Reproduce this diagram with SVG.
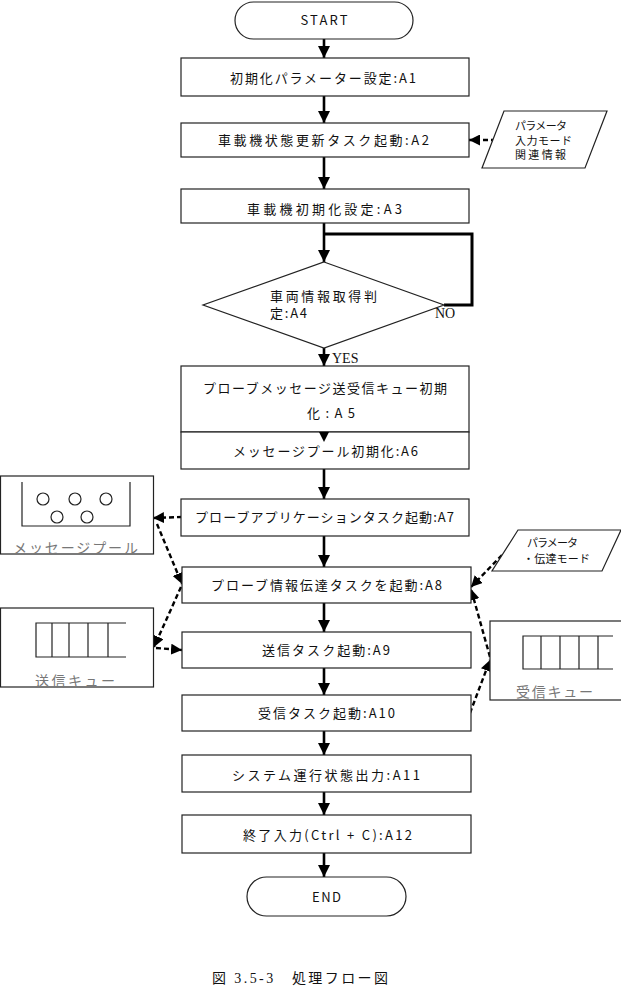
<svg xmlns="http://www.w3.org/2000/svg" width="621" height="1004" viewBox="0 0 621 1004">
<style>
.box{fill:#fff;stroke:#222;stroke-width:1.2}
.t{font-family:"Noto Sans CJK JP","Liberation Sans",sans-serif;font-size:13px;fill:#111}
.s{font-family:"Noto Sans CJK JP","Liberation Sans",sans-serif;font-size:11px;fill:#111}
.g{font-family:"Noto Sans CJK JP","Liberation Serif",serif;font-size:14px;fill:#777}
.r{font-family:"Liberation Serif",serif;font-size:14px;fill:#111}
.cap{font-family:"Liberation Serif","Noto Sans CJK JP",serif;font-size:14px;fill:#111}
.sol{fill:none;stroke:#000;stroke-width:2.6;marker-end:url(#ah)}
.dash{fill:none;stroke:#000;stroke-width:2.4;stroke-dasharray:5 3;marker-end:url(#ahd)}
.thin{fill:none;stroke:#222;stroke-width:1.2}
</style>
<defs>
<marker id="ah" markerUnits="userSpaceOnUse" markerWidth="12" markerHeight="12" refX="10" refY="5" orient="auto" viewBox="0 0 10 10">
<path d="M0,0 L10,5 L0,10 Z" fill="#000"/>
</marker>
<marker id="ahd" markerUnits="userSpaceOnUse" markerWidth="11" markerHeight="11" refX="10" refY="5" orient="auto" viewBox="0 0 10 10">
<path d="M0,0 L10,5 L0,10 Z" fill="#000"/>
</marker>
</defs>
<rect width="621" height="1004" fill="#fff"/>

<g id="connectors">
<path class="sol" d="M324,39 V58"/>
<path class="sol" d="M324,96 V123"/>
<path class="sol" d="M324,157 V189"/>
<path class="sol" d="M324,223 V262"/>
<path d="M324,234 H472 V305 H444" fill="none" stroke="#000" stroke-width="3"/>
<path class="sol" d="M324,348 V366"/>
<path class="sol" d="M324,469 V499"/>
<path class="sol" d="M324,536 V567"/>
<path class="sol" d="M324,603 V632"/>
<path class="sol" d="M324,668 V695"/>
<path class="sol" d="M324,731 V755"/>
<path class="sol" d="M324,792 V815"/>
<path class="sol" d="M324,853 V877"/>
<path class="dash" d="M496,140 H469"/>
<path class="dash" d="M182,517 L153,518"/>
<path class="dash" d="M157,524 L182,584"/>
<path class="dash" d="M181,587 L154,647"/>
<path class="dash" d="M156,648 L182,650"/>
<path class="dash" d="M502,555 L471,587"/>
<path class="dash" d="M490,657 L471,589"/>
<path class="dash" d="M470,713 L490,660"/>
</g>

<g id="start">
<rect x="235" y="2" width="178" height="37" rx="18.5" class="box"/>
<text x="324" y="25" class="t" text-anchor="middle" textLength="47">START</text>
</g>
<g id="A1">
<rect x="181" y="58" width="288" height="38" class="box"/>
<text x="230" y="82.5" class="t" textLength="186" lengthAdjust="spacing">初期化パラメーター設定:A1</text>
</g>
<g id="param1">
<polygon points="504,111 607,111 585,168 482,168" class="box"/>
<text x="515" y="130" class="s" textLength="52">パラメータ</text>
<text x="515" y="144.5" class="s" textLength="57">入力モード</text>
<text x="515" y="159" class="s" textLength="51">関連情報</text>
</g>
<g id="A2">
<rect x="181" y="123" width="288" height="34" class="box"/>
<text x="218" y="144.5" class="t" textLength="211" lengthAdjust="spacing">車載機状態更新タスク起動:A2</text>
</g>
<g id="A3">
<rect x="181" y="189" width="288" height="34" class="box"/>
<text x="247" y="213.5" class="t" textLength="155" lengthAdjust="spacing">車載機初期化設定:A3</text>
</g>
<g id="A4">
<polygon points="324,262 444,305 324,348 203,305" class="box"/>
<text x="270" y="300.5" class="t" textLength="107" lengthAdjust="spacing">車両情報取得判</text>
<text x="270" y="317.5" class="t" textLength="37" lengthAdjust="spacing">定:A4</text>
<text x="435" y="318" class="r">NO</text>
<text x="332" y="363" class="r">YES</text>
</g>
<g id="A5">
<rect x="181" y="366" width="288" height="66" class="box"/>
<text x="203" y="392.5" class="t" textLength="244" lengthAdjust="spacing">プローブメッセージ送受信キュー初期</text>
<text x="307" y="417.5" class="t" textLength="48" lengthAdjust="spacing">化:A5</text>
</g>
<g id="A6">
<rect x="181" y="432" width="288" height="37" class="box"/>
<text x="233" y="455.5" class="t" textLength="185" lengthAdjust="spacing">メッセージプール初期化:A6</text>
<path d="M319,432 L329,432 L324,442 Z" fill="#000"/>
</g>
<g id="A7">
<rect x="181" y="499" width="288" height="37" class="box"/>
<text x="195" y="521.5" class="t" textLength="259" lengthAdjust="spacing">プローブアプリケーションタスク起動:A7</text>
</g>
<g id="A8">
<rect x="182" y="567" width="289" height="36" class="box"/>
<text x="211" y="589.5" class="t" textLength="231" lengthAdjust="spacing">プローブ情報伝達タスクを起動:A8</text>
</g>
<g id="A9">
<rect x="182" y="632" width="289" height="36" class="box"/>
<text x="262" y="654.5" class="t" textLength="128" lengthAdjust="spacing">送信タスク起動:A9</text>
</g>
<g id="A10">
<rect x="182" y="695" width="289" height="36" class="box"/>
<text x="258" y="717.5" class="t" textLength="137" lengthAdjust="spacing">受信タスク起動:A10</text>
</g>
<g id="A11">
<rect x="182" y="755" width="289" height="37" class="box"/>
<text x="232" y="779.5" class="t" textLength="188" lengthAdjust="spacing">システム運行状態出力:A11</text>
</g>
<g id="A12">
<rect x="182" y="815" width="289" height="38" class="box"/>
<text x="243" y="839.5" class="t" textLength="169" lengthAdjust="spacing">終了入力(Ctrl + C):A12</text>
</g>
<g id="end">
<rect x="247" y="877" width="159" height="39" rx="19.5" class="box"/>
<text x="326.5" y="901.5" class="t" text-anchor="middle" textLength="29">END</text>
</g>

<g id="messagepool">
<rect x="0.5" y="476" width="153" height="78" class="box"/>
<path d="M22,482 V526 H130 V482" class="thin"/>
<circle cx="43" cy="499" r="6" class="thin"/>
<circle cx="75" cy="499" r="6" class="thin"/>
<circle cx="106" cy="499" r="6" class="thin"/>
<circle cx="57" cy="517" r="6" class="thin"/>
<circle cx="87" cy="517" r="6" class="thin"/>
<text x="13" y="553" class="g" textLength="125" lengthAdjust="spacing">メッセージプール</text>
</g>
<g id="sendqueue">
<rect x="0.5" y="608" width="153" height="79" class="box"/>
<path d="M126,623 H36 V657 H126 M52,623 V657 M69,623 V657 M88,623 V657 M108,623 V657" class="thin"/>
<text x="35" y="686" class="g" textLength="80" lengthAdjust="spacing">送信キュー</text>
</g>
<g id="param2">
<polygon points="518,530 621,530 602,571 492,571" class="box"/>
<text x="527" y="547" class="s" textLength="51">パラメータ</text>
<text x="523" y="563" class="s" textLength="67">・伝達モード</text>
</g>
<g id="recvqueue">
<rect x="490" y="621" width="140" height="79" class="box"/>
<path d="M613,636 H523 V669 H613 M541,636 V669 M560,636 V669 M579,636 V669 M598,636 V669" class="thin"/>
<text x="516" y="697" class="g" textLength="77" lengthAdjust="spacing">受信キュー</text>
</g>

<text x="212" y="983" class="cap" textLength="176" lengthAdjust="spacing">図 3.5-3　処理フロー図</text>
</svg>
